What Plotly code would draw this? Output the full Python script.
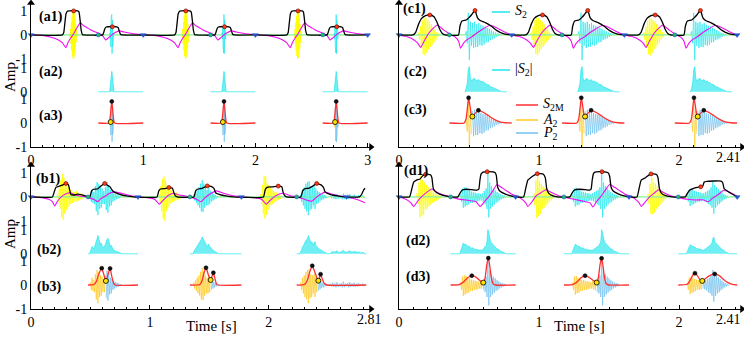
import plotly.graph_objects as go

FONT = "Liberation Serif"
W, H = 744, 338
ROW_OFF = [3.67, 1.3, 0.0]
Y_RANGE = [-1.0, 5.0]

COL_S1 = "#FFFF00"
COL_S2 = "#22E6EE"
COL_S2_FILL = "rgba(34,230,238,0.65)"
COL_MAG = "#EE10EE"
COL_ENV = "#000000"
COL_S2M = "#FF3030"
COL_A2 = "#FFC820"
COL_P2 = "#70C0EE"
COL_DOT = "#FF3A10"
COL_TRI = "#2255CC"
COL_GRN = "#22BB66"
COL_SPL = "#FFE000"

# ================= panel (a) : one repeated cycle =================
A_XMAX = 3.03
A_TEND = 3.0
A_TICKS = [0, 1, 2, 3]
A_TICKTEXT = ["0", "1", "2", "3"]
A_ENDLABEL = None
A_ONSETS = [0.0, 1.0, 2.0]
A_S1 = (0.347, 0.0032, [0.05, -0.12, 0.25, -0.38, 0.52, -0.65, 0.78, -0.88, 0.97, -1.0, 1.0,
                        -0.95, 0.9, -0.82, 0.7, -0.58, 0.45, -0.32, 0.2, -0.1, 0.04])
A_S2 = (0.703, 0.0028, [0.08, -0.18, 0.35, -0.5, 0.68, -0.75, 0.85, -0.78, 0.62, -0.48, 0.32, -0.18, 0.08])
A_ENV = [(0, 0), (0.28, 0), (0.292, 0.1), (0.302, 0.5), (0.312, 0.88), (0.325, 0.99), (0.34, 1.0),
         (0.415, 1.0), (0.428, 0.95), (0.438, 0.6), (0.447, 0.2), (0.458, 0.02), (0.47, 0),
         (0.638, 0), (0.648, 0.1), (0.658, 0.26), (0.67, 0.33), (0.685, 0.34), (0.765, 0.34),
         (0.777, 0.3), (0.787, 0.15), (0.797, 0.03), (0.81, 0), (1.0, 0)]
A_MAG = [(0, 0.01), (0.1, -0.02), (0.18, -0.1), (0.24, -0.2), (0.28, -0.33), (0.31, -0.53),
         (0.33, -0.32), (0.355, -0.12), (0.38, 0.05), (0.41, 0.3), (0.44, 0.5), (0.47, 0.38),
         (0.5, 0.3), (0.53, 0.22), (0.57, 0.13), (0.61, 0.06), (0.64, -0.04), (0.665, -0.21),
         (0.69, -0.12), (0.72, 0.0), (0.75, 0.1), (0.79, 0.17), (0.83, 0.12), (0.9, 0.06), (1.0, 0.01)]
A_RED = [(0.38, 1.0), (0.725, 0.34)]
A_WIN2 = (0.6, 1.0)
A_WIN3 = (0.6, 1.0)
A_SPLIT = 0.706
A_S2M = [(0.6, 0), (0.695, 0), (0.703, 0.12), (0.711, 0.5), (0.72, 0.9), (0.728, 0.55),
         (0.736, 0.15), (0.745, 0.0), (1.0, 0)]
A_R3_PEAK = [(0.72, 0.9)]
A_R3_SPL = [(0.71, 0.04)]
A_BLUE = [0, 1, 2, 3]
A_GREEN = [0.6, 1.6, 2.6]

# ================= panel (c) : one repeated cycle =================
C_XMAX = 2.45
C_TEND = 2.415
C_TICKS = [0, 1, 2]
C_TICKTEXT = ["0", "1", "2"]
C_ENDLABEL = ("2.41", 743, 157, "right")
C_ONSETS = [0.0, 0.805, 1.61]
C_S1 = (0.14, 0.0065, [0.1, -0.2, 0.35, -0.5, 0.6, -0.8, 0.72, -0.85, 0.7, -0.75, 0.62, -0.6, 0.55,
                       -0.5, 0.45, -0.4, 0.32, -0.3, 0.22, -0.2, 0.12, -0.1, 0.05, -0.03])
C_S2 = (0.48, 0.0075, [0.15, -0.35, 0.92, -1.05, 0.55, -0.45, 0.5, -0.55, 0.55, -0.5, 0.45, -0.5,
                       0.5, -0.42, 0.42, -0.45, 0.38, -0.4, 0.35, -0.32, 0.3, -0.3, 0.25, -0.22,
                       0.2, -0.18, 0.15, -0.14, 0.1, -0.08, 0.07, -0.05, 0.04, -0.02])
C_ENV = [(0, 0), (0.10, 0), (0.12, 0.12), (0.14, 0.45), (0.16, 0.68), (0.19, 0.8), (0.22, 0.83),
         (0.25, 0.76), (0.27, 0.55), (0.29, 0.25), (0.31, 0.06), (0.33, 0), (0.425, 0),
         (0.435, 0.35), (0.45, 0.58), (0.48, 0.62), (0.50, 0.72), (0.52, 0.85), (0.543, 1.02),
         (0.56, 0.72), (0.58, 0.6), (0.62, 0.5), (0.66, 0.36), (0.70, 0.18), (0.74, 0.06),
         (0.78, 0.01), (0.805, 0)]
C_MAG = [(0, 0), (0.06, -0.08), (0.11, -0.22), (0.135, -0.35), (0.155, -0.52), (0.18, -0.25),
         (0.21, 0.05), (0.24, 0.25), (0.27, 0.4), (0.29, 0.35), (0.32, 0.2), (0.36, 0.05),
         (0.40, -0.08), (0.425, -0.25), (0.44, -0.55), (0.46, -0.35), (0.49, -0.18), (0.52, -0.08),
         (0.56, 0.1), (0.6, 0.25), (0.65, 0.4), (0.69, 0.32), (0.73, 0.2), (0.77, 0.08), (0.805, 0.0)]
C_RED = [(0.22, 0.83), (0.543, 1.02)]
C_WIN2 = (0.475, 0.77)
C_WIN3 = (0.36, 0.805)
C_SPLIT = 0.524
C_S2M = [(0.36, 0), (0.465, 0.0), (0.478, 0.15), (0.488, 0.6), (0.497, 1.05), (0.506, 0.75),
         (0.515, 0.4), (0.524, 0.27), (0.54, 0.38), (0.567, 0.53), (0.6, 0.45), (0.64, 0.3),
         (0.68, 0.15), (0.72, 0.05), (0.76, 0.01), (0.805, 0)]
C_R3_PEAK = [(0.497, 1.05), (0.567, 0.53)]
C_R3_SPL = [(0.524, 0.27)]
C_BLUE = [0, 0.805, 1.61, 2.415]
C_GREEN = [0.36, 1.165, 1.97]

# ================= panel (b) =================
B_XMAX = 2.86
B_TEND = 2.81
B_TICKS = [0, 1, 2]
B_TICKTEXT = ["0", "1", "2"]
B_ENDLABEL = ("2.81", 369, 319, "center")
B_S1 = [
    (0.225, 0.0065, [0.1, -0.2, 0.35, -0.5, 0.7, -0.85, 0.95, -0.95, 0.8, -0.7, 0.6, -0.55, 0.5, -0.45,
                     0.4, -0.35, 0.3, -0.3, 0.28, -0.25, 0.22, -0.2, 0.2, -0.18, 0.25, -0.2, 0.18,
                     -0.15, 0.12, -0.1, 0.15, -0.12, 0.1, -0.08, 0.06, -0.04]),
    (1.08, 0.0065, [0.1, -0.25, 0.45, -0.6, 0.75, -0.9, 0.85, -1.0, 0.7, -0.6, 0.5, -0.45, 0.4, -0.35,
                    0.3, -0.28, 0.25, -0.22, 0.2, -0.18, 0.15, -0.15, 0.18, -0.14, 0.12, -0.1, 0.08,
                    -0.06, 0.05, -0.03]),
    (1.935, 0.0065, [0.12, -0.3, 0.5, -0.7, 0.88, -0.9, 0.85, -0.75, 0.6, -0.55, 0.5, -0.45, 0.4,
                     -0.35, 0.3, -0.3, 0.25, -0.22, 0.2, -0.2, 0.18, -0.15, 0.12, -0.12, 0.1, -0.08,
                     0.05, -0.03]),
]
B_S2 = [
    (0.5, 0.007, [0.1, -0.2, 0.3, -0.25, 0.2, -0.3, 0.45, -0.6, 0.62, -0.76, 0.55, -0.5, 0.4, -0.45,
                  0.35, -0.3, 0.25, -0.3, 0.4, -0.55, 0.6, -0.65, 0.5, -0.4, 0.3, -0.35, 0.25, -0.2,
                  0.15, -0.15, 0.12, -0.1, 0.1, -0.08, 0.06, -0.05, 0.04, -0.02]),
    (1.37, 0.007, [0.1, -0.15, 0.2, -0.25, 0.3, -0.35, 0.4, -0.45, 0.55, -0.6, 0.7, -0.63, 0.55, -0.45,
                   0.4, -0.35, 0.3, -0.35, 0.4, -0.3, 0.25, -0.2, 0.18, -0.15, 0.12, -0.1, 0.08,
                   -0.06, 0.04, -0.02]),
    (2.27, 0.007, [0.1, -0.2, 0.3, -0.35, 0.4, -0.5, 0.55, -0.6, 0.62, -0.76, 0.65, -0.55, 0.45, -0.5,
                   0.4, -0.35, 0.45, -0.5, 0.35, -0.3, 0.25, -0.25, 0.2, -0.18, 0.15, -0.12, 0.1,
                   -0.1, 0.08, -0.06, 0.05, -0.04]),
    (2.52, 0.009, [0.05, -0.06, 0.1, -0.08, 0.06, -0.1, 0.12, -0.08, 0.05, -0.06, 0.08, -0.1, 0.14,
                   -0.09, 0.06, -0.05, 0.09, -0.1, 0.12, -0.08, 0.06, -0.07, 0.1, -0.08, 0.05, -0.06,
                   0.08, -0.05, 0.04, -0.03, 0.06, -0.05]),
]
B_ENV = [(0, 0), (0.18, 0), (0.195, 0.2), (0.21, 0.4), (0.24, 0.45), (0.27, 0.5), (0.294, 0.56),
         (0.315, 0.5), (0.325, 0.3), (0.335, 0.1), (0.36, 0.08), (0.39, 0.12), (0.42, 0.1),
         (0.45, 0.05), (0.48, 0.0), (0.495, 0), (0.51, 0.25), (0.525, 0.32), (0.56, 0.33),
         (0.58, 0.42), (0.6, 0.5), (0.62, 0.56), (0.645, 0.48), (0.665, 0.42), (0.68, 0.3),
         (0.7, 0.2), (0.74, 0.12), (0.8, 0.04), (0.86, 0), (1.06, 0), (1.075, 0.25), (1.09, 0.33),
         (1.13, 0.35), (1.16, 0.39), (1.19, 0.36), (1.2, 0.2), (1.215, 0.05), (1.23, 0), (1.37, 0),
         (1.385, 0.25), (1.4, 0.32), (1.44, 0.36), (1.465, 0.42), (1.483, 0.46), (1.52, 0.43),
         (1.54, 0.35), (1.555, 0.16), (1.6, 0.08), (1.65, 0.03), (1.7, 0), (1.955, 0), (1.97, 0.3),
         (1.985, 0.4), (2.03, 0.42), (2.08, 0.45), (2.11, 0.42), (2.12, 0.2), (2.135, 0.05),
         (2.15, 0), (2.27, 0), (2.285, 0.25), (2.3, 0.33), (2.34, 0.37), (2.37, 0.45),
         (2.403, 0.56), (2.44, 0.5), (2.46, 0.4), (2.475, 0.2), (2.52, 0.1), (2.58, 0.04),
         (2.63, 0), (2.76, 0), (2.78, 0.1), (2.8, 0.3), (2.81, 0.36)]
B_MAG = [(0, 0), (0.1, -0.04), (0.15, -0.1), (0.18, -0.2), (0.2, -0.38), (0.22, -0.2), (0.25, -0.02),
         (0.29, 0.12), (0.33, 0.18), (0.37, 0.08), (0.42, 0.03), (0.47, 0.0), (0.5, -0.05),
         (0.535, -0.12), (0.56, -0.2), (0.585, -0.08), (0.62, 0.02), (0.66, 0.15), (0.7, 0.21),
         (0.76, 0.15), (0.83, 0.06), (0.9, 0.0), (0.98, -0.03), (1.04, -0.1), (1.08, -0.3),
         (1.11, -0.15), (1.15, 0.05), (1.2, 0.15), (1.25, 0.08), (1.31, 0.03), (1.37, -0.05),
         (1.4, -0.12), (1.43, -0.2), (1.46, -0.05), (1.5, 0.1), (1.56, 0.25), (1.62, 0.15),
         (1.7, 0.05), (1.78, 0.0), (1.88, -0.03), (1.94, -0.1), (1.98, -0.3), (2.01, -0.15),
         (2.06, 0.05), (2.12, 0.15), (2.18, 0.05), (2.24, 0.0), (2.29, -0.08), (2.33, -0.15),
         (2.36, -0.18), (2.4, -0.02), (2.44, 0.12), (2.47, 0.2), (2.53, 0.12), (2.6, 0.04),
         (2.66, 0.0), (2.72, -0.08), (2.78, -0.18), (2.81, -0.24)]
B_RED = [(0.294, 0.56), (0.62, 0.56), (1.16, 0.39), (1.483, 0.46), (2.08, 0.45), (2.403, 0.56)]
B_BLUE = [0, 0.90, 1.77, 2.655]
B_GREEN = [0.48, 1.337, 2.235]
B_WIN = [(0.48, 0.90), (1.337, 1.77), (2.235, 2.82)]
B_SPLIT = [0.63, 1.511, 2.417]
B_S2M = [
    [(0.48, 0), (0.53, 0.02), (0.55, 0.15), (0.57, 0.45), (0.595, 0.7), (0.612, 0.45), (0.63, 0.17),
     (0.645, 0.4), (0.665, 0.69), (0.68, 0.35), (0.695, 0.08), (0.71, 0), (0.9, 0)],
    [(1.337, 0), (1.42, 0.02), (1.44, 0.2), (1.455, 0.5), (1.472, 0.72), (1.49, 0.45), (1.511, 0.21),
     (1.522, 0.35), (1.534, 0.51), (1.548, 0.25), (1.56, 0.05), (1.575, 0), (1.77, 0)],
    [(2.235, 0), (2.3, 0.02), (2.325, 0.2), (2.345, 0.55), (2.366, 0.8), (2.39, 0.5), (2.417, 0.18),
     (2.427, 0.3), (2.436, 0.45), (2.45, 0.25), (2.47, 0.05), (2.49, 0), (2.82, 0)],
]
B_R3_PEAK = [(0.595, 0.7), (0.665, 0.69), (1.472, 0.72), (1.534, 0.51), (2.366, 0.8), (2.436, 0.45)]
B_R3_SPL = [(0.63, 0.17), (1.511, 0.21), (2.417, 0.18)]

# ================= panel (d) =================
D_XMAX = 2.45
D_TEND = 2.416
D_TICKS = [0, 1, 2]
D_TICKTEXT = ["0", "1", "2"]
D_ENDLABEL = ("2.41", 743, 319, "right")
D_S1 = [
    (0.13, 0.0065, [0.15, -0.3, 0.6, -0.85, 0.9, -0.8, 0.7, -0.75, 0.6, -0.55, 0.5, -0.5, 0.42, -0.4,
                    0.35, -0.32, 0.28, -0.25, 0.2, -0.2, 0.15, -0.15, 0.12, -0.1, 0.08, -0.06, 0.05,
                    -0.03]),
    (0.965, 0.0065, [0.15, -0.35, 0.7, -0.88, 0.85, -0.8, 0.65, -0.7, 0.55, -0.5, 0.45, -0.45, 0.38,
                     -0.35, 0.3, -0.28, 0.22, -0.2, 0.15, -0.14, 0.1, -0.08, 0.05, -0.03]),
    (1.78, 0.0065, [0.12, -0.3, 0.55, -0.7, 0.8, -0.72, 0.6, -0.65, 0.55, -0.5, 0.45, -0.42, 0.35,
                    -0.32, 0.28, -0.25, 0.2, -0.18, 0.12, -0.1, 0.06, -0.04]),
]
D_S2 = [
    (0.44, 0.0065, [0.1, -0.2, 0.35, -0.45, 0.4, -0.4, 0.38, -0.35, 0.3, -0.32, 0.28, -0.25, 0.22,
                    -0.25, 0.2, -0.2, 0.18, -0.2, 0.15, -0.18, 0.15, -0.15, 0.12, -0.15, 0.15, -0.2,
                    0.25, -0.3, 0.35, -0.5, 1.0, -0.85, 0.6, -0.5, 0.45, -0.4, 0.35, -0.32, 0.28,
                    -0.25, 0.2, -0.2, 0.15, -0.14, 0.1, -0.1, 0.08, -0.06, 0.05, -0.03]),
    (1.24, 0.0065, [0.1, -0.2, 0.35, -0.4, 0.38, -0.35, 0.3, -0.32, 0.28, -0.25, 0.22, -0.25, 0.2,
                    -0.2, 0.18, -0.2, 0.15, -0.18, 0.15, -0.15, 0.12, -0.15, 0.15, -0.18, 0.2, -0.22,
                    0.25, -0.3, 0.3, -0.35, 0.4, -0.5, 1.0, -0.85, 0.6, -0.5, 0.45, -0.4, 0.35,
                    -0.32, 0.28, -0.25, 0.2, -0.2, 0.15, -0.14, 0.1, -0.1, 0.08, -0.06, 0.05, -0.03]),
    (2.06, 0.0065, [0.1, -0.2, 0.3, -0.38, 0.35, -0.32, 0.3, -0.3, 0.25, -0.25, 0.22, -0.2, 0.2,
                    -0.2, 0.18, -0.18, 0.15, -0.15, 0.15, -0.18, 0.2, -0.22, 0.25, -0.3, 0.3, -0.35,
                    0.4, -0.45, 0.62, -0.7, 0.5, -0.45, 0.4, -0.35, 0.32, -0.3, 0.25, -0.22, 0.18,
                    -0.15, 0.12, -0.1, 0.08, -0.06, 0.05, -0.03]),
]
D_ENV = [(0, 0), (0.075, 0), (0.09, 0.3), (0.105, 0.62), (0.125, 0.7), (0.15, 0.75), (0.17, 0.88),
         (0.19, 0.94), (0.225, 0.92), (0.235, 0.8), (0.245, 0.35), (0.26, 0.22), (0.29, 0.12),
         (0.33, 0.04), (0.37, 0), (0.42, 0), (0.435, 0.15), (0.45, 0.28), (0.48, 0.32), (0.52, 0.3),
         (0.555, 0.28), (0.57, 0.32), (0.578, 0.7), (0.586, 0.95), (0.6, 1.03), (0.64, 1.05),
         (0.685, 1.02), (0.695, 0.9), (0.705, 0.4), (0.72, 0.25), (0.76, 0.12), (0.8, 0.04),
         (0.833, 0), (0.89, 0), (0.905, 0.35), (0.92, 0.7), (0.94, 0.8), (0.97, 0.92), (0.99, 0.97),
         (1.03, 0.95), (1.045, 0.8), (1.055, 0.35), (1.07, 0.15), (1.1, 0.04), (1.13, 0),
         (1.22, 0), (1.235, 0.15), (1.25, 0.28), (1.29, 0.32), (1.33, 0.3), (1.36, 0.28),
         (1.372, 0.32), (1.38, 0.7), (1.388, 0.95), (1.40, 1.03), (1.45, 1.05), (1.495, 1.0),
         (1.505, 0.85), (1.515, 0.4), (1.53, 0.25), (1.57, 0.12), (1.61, 0.04), (1.643, 0),
         (1.7, 0), (1.715, 0.35), (1.73, 0.7), (1.76, 0.8), (1.79, 0.93), (1.81, 0.96), (1.84, 0.93),
         (1.85, 0.8), (1.86, 0.35), (1.875, 0.15), (1.91, 0.04), (1.95, 0), (2.045, 0),
         (2.06, 0.15), (2.075, 0.28), (2.1, 0.35), (2.13, 0.4), (2.155, 0.42), (2.17, 0.45),
         (2.18, 0.62), (2.2, 0.65), (2.3, 0.66), (2.312, 0.6), (2.322, 0.35), (2.345, 0.25),
         (2.38, 0.12), (2.416, 0.0)]
D_MAG = [(0, 0), (0.05, -0.1), (0.085, -0.25), (0.105, -0.4), (0.13, -0.2), (0.16, 0.0), (0.2, 0.2),
         (0.235, 0.33), (0.27, 0.2), (0.32, 0.08), (0.37, 0.0), (0.42, -0.08), (0.5, -0.15),
         (0.55, -0.2), (0.58, -0.4), (0.61, -0.2), (0.64, 0.0), (0.67, 0.25), (0.70, 0.52),
         (0.73, 0.4), (0.77, 0.25), (0.81, 0.1), (0.85, 0.02), (0.88, -0.1), (0.905, -0.25),
         (0.92, -0.4), (0.95, -0.2), (0.98, 0.05), (1.02, 0.2), (1.05, 0.3), (1.09, 0.18),
         (1.14, 0.05), (1.19, -0.02), (1.25, -0.1), (1.32, -0.18), (1.365, -0.25), (1.385, -0.42),
         (1.41, -0.2), (1.44, 0.0), (1.47, 0.25), (1.505, 0.52), (1.54, 0.4), (1.58, 0.25),
         (1.62, 0.1), (1.66, 0.02), (1.69, -0.1), (1.715, -0.25), (1.73, -0.4), (1.76, -0.2),
         (1.79, 0.0), (1.82, 0.15), (1.855, 0.3), (1.89, 0.18), (1.94, 0.05), (2.0, -0.03),
         (2.06, -0.1), (2.12, -0.13), (2.17, -0.12), (2.21, -0.2), (2.24, -0.05), (2.28, 0.1),
         (2.32, 0.28), (2.36, 0.2), (2.39, 0.1), (2.416, 0.03)]
D_RED = [(0.19, 0.94), (0.63, 1.05), (0.988, 0.97), (1.45, 1.05), (1.80, 0.96), (2.155, 0.42)]
D_BLUE = [0, 0.833, 1.643, 2.416]
D_GREEN = [0.369, 1.178, 1.995]
D_WIN = [(0.369, 0.833), (1.178, 1.643), (1.995, 2.416)]
D_SPLIT = [0.602, 1.412, 2.166]
D_S2M = [
    [(0.369, 0), (0.43, 0.02), (0.46, 0.12), (0.49, 0.3), (0.52, 0.39), (0.55, 0.33), (0.575, 0.2),
     (0.602, 0.1), (0.615, 0.3), (0.627, 0.85), (0.638, 1.12), (0.648, 0.8), (0.66, 0.3),
     (0.672, 0.05), (0.69, 0), (0.833, 0)],
    [(1.178, 0), (1.24, 0.02), (1.27, 0.12), (1.3, 0.3), (1.329, 0.39), (1.355, 0.33), (1.385, 0.2),
     (1.412, 0.1), (1.424, 0.3), (1.436, 0.85), (1.447, 1.11), (1.457, 0.8), (1.468, 0.3),
     (1.48, 0.05), (1.5, 0), (1.643, 0)],
    [(1.995, 0), (2.06, 0.03), (2.08, 0.2), (2.1, 0.42), (2.114, 0.49), (2.13, 0.4), (2.15, 0.22),
     (2.166, 0.17), (2.185, 0.25), (2.215, 0.38), (2.255, 0.46), (2.29, 0.38), (2.32, 0.22),
     (2.35, 0.1), (2.38, 0.03), (2.416, 0)],
]
D_R3_PEAK = [(0.52, 0.39), (0.638, 1.12), (1.329, 0.39), (1.447, 1.11), (2.114, 0.49), (2.255, 0.46)]
D_R3_SPL = [(0.602, 0.1), (1.412, 0.1), (2.166, 0.17)]


# ---------------- helpers ----------------
def rep_knots(onsets, rel):
    return [(o + t, v) for o in onsets for (t, v) in rel]


def rep_groups(onsets, rel):
    return [[(o + t, v) for (t, v) in rel] for o in onsets]


def rep_bursts(onsets, b):
    return [(o + b[0], b[1], b[2]) for o in onsets]


def burst_pts(b):
    s, dt, vals = b
    t = [s + i * dt for i in range(len(vals))]
    return [s - dt] + t + [t[-1] + dt], [0.0] + list(vals) + [0.0]


def full_series(bursts, t0, t1, off):
    xs, ys = [t0], [0.0]
    for b in sorted(bursts, key=lambda q: q[0]):
        bx, by = burst_pts(b)
        xs += bx
        ys += by
    xs.append(t1)
    ys.append(0.0)
    return xs, [v + off for v in ys]


def window_abs(bursts, windows, off):
    xs, ys = [], []
    for w0, w1 in windows:
        xs.append(w0)
        ys.append(off)
        for b in sorted(bursts, key=lambda q: q[0]):
            if w0 <= b[0] <= w1:
                bx, by = burst_pts(b)
                xs += bx
                ys += [abs(v) + off for v in by]
        xs += [w1, None]
        ys += [off, None]
    return xs, ys


def window_split(bursts, windows, splits, off):
    ax, ay, px_, py_ = [], [], [], []
    for (w0, w1), s in zip(windows, splits):
        for b in sorted(bursts, key=lambda q: q[0]):
            if w0 <= b[0] <= w1:
                bx, by = burst_pts(b)
                for t, v in zip(bx, by):
                    if t < s:
                        ax.append(t)
                        ay.append(v + off)
                    else:
                        px_.append(t)
                        py_.append(v + off)
        ax.append(None); ay.append(None); px_.append(None); py_.append(None)
    return ax, ay, px_, py_


def knots_xy(knots, off):
    return [k[0] for k in knots], [k[1] + off for k in knots]


def groups_xy(groups, off):
    xs, ys = [], []
    for g in groups:
        for t, v in g:
            xs.append(t)
            ys.append(v + off)
        xs.append(None)
        ys.append(None)
    return xs, ys


# ---------------- panel specs ----------------
PANELS = [
    dict(xmax=A_XMAX, tend=A_TEND, ticks=A_TICKS, ticktext=A_TICKTEXT, endlabel=A_ENDLABEL,
         s1=rep_bursts(A_ONSETS, A_S1), s2=rep_bursts(A_ONSETS, A_S2),
         env=rep_knots(A_ONSETS, A_ENV), mag=rep_knots(A_ONSETS, A_MAG),
         red=rep_knots(A_ONSETS, A_RED), blue=A_BLUE, green=A_GREEN,
         win2=[(o + A_WIN2[0], o + A_WIN2[1]) for o in A_ONSETS],
         win3=[(o + A_WIN3[0], o + A_WIN3[1]) for o in A_ONSETS],
         split=[o + A_SPLIT for o in A_ONSETS], s2m=rep_groups(A_ONSETS, A_S2M),
         pk=rep_knots(A_ONSETS, A_R3_PEAK), sp=rep_knots(A_ONSETS, A_R3_SPL),
         dom_x=(31, 371), dom_y=(3, 147), ylabels=True),
    dict(xmax=B_XMAX, tend=B_TEND, ticks=B_TICKS, ticktext=B_TICKTEXT, endlabel=B_ENDLABEL,
         s1=B_S1, s2=B_S2, env=B_ENV, mag=B_MAG, red=B_RED, blue=B_BLUE, green=B_GREEN,
         win2=B_WIN, win3=B_WIN, split=B_SPLIT, s2m=B_S2M, pk=B_R3_PEAK, sp=B_R3_SPL,
         dom_x=(31, 371), dom_y=(165, 309), ylabels=True),
    dict(xmax=C_XMAX, tend=C_TEND, ticks=C_TICKS, ticktext=C_TICKTEXT, endlabel=C_ENDLABEL,
         s1=rep_bursts(C_ONSETS, C_S1), s2=rep_bursts(C_ONSETS, C_S2),
         env=rep_knots(C_ONSETS, C_ENV), mag=rep_knots(C_ONSETS, C_MAG),
         red=rep_knots(C_ONSETS, C_RED), blue=C_BLUE, green=C_GREEN,
         win2=[(o + C_WIN2[0], o + C_WIN2[1]) for o in C_ONSETS],
         win3=[(o + C_WIN3[0], o + C_WIN3[1]) for o in C_ONSETS],
         split=[o + C_SPLIT for o in C_ONSETS], s2m=rep_groups(C_ONSETS, C_S2M),
         pk=rep_knots(C_ONSETS, C_R3_PEAK), sp=rep_knots(C_ONSETS, C_R3_SPL),
         dom_x=(399, 742), dom_y=(3, 147), ylabels=False),
    dict(xmax=D_XMAX, tend=D_TEND, ticks=D_TICKS, ticktext=D_TICKTEXT, endlabel=D_ENDLABEL,
         s1=D_S1, s2=D_S2, env=D_ENV, mag=D_MAG, red=D_RED, blue=D_BLUE, green=D_GREEN,
         win2=D_WIN, win3=D_WIN, split=D_SPLIT, s2m=D_S2M, pk=D_R3_PEAK, sp=D_R3_SPL,
         dom_x=(399, 742), dom_y=(165, 309), ylabels=False),
]

fig = go.Figure()


def add_line(x, y, color, width, xa, ya, shape="linear", smoothing=None, fill=None, fillcolor=None):
    line = dict(color=color, width=width, shape=shape)
    if smoothing is not None:
        line["smoothing"] = smoothing
    kw = {}
    if fill:
        kw = dict(fill=fill, fillcolor=fillcolor)
    fig.add_trace(go.Scatter(x=x, y=y, mode="lines", line=line, xaxis=xa, yaxis=ya,
                             hoverinfo="skip", showlegend=False, connectgaps=False, **kw))


def add_markers(x, y, symbol, color, size, xa, ya, lc="black", lw=0.6):
    fig.add_trace(go.Scatter(x=x, y=y, mode="markers", xaxis=xa, yaxis=ya, cliponaxis=False,
                             marker=dict(symbol=symbol, color=color, size=size,
                                         line=dict(color=lc, width=lw)),
                             hoverinfo="skip", showlegend=False))


o1, o2, o3 = ROW_OFF
annotations = []
shapes = []
layout_axes = {}


def px(x):
    return x / W


def py(y):
    return 1 - y / H


for k, p in enumerate(PANELS, start=1):
    xa = "x" if k == 1 else f"x{k}"
    ya = "y" if k == 1 else f"y{k}"
    # row 1
    x, y = full_series(p["s1"], 0, p["tend"], o1)
    add_line(x, y, COL_S1, 0.8, xa, ya)
    x, y = full_series(p["s2"], 0, p["tend"], o1)
    add_line(x, y, COL_S2, 0.7, xa, ya)
    x, y = knots_xy(p["mag"], o1)
    add_line(x, y, COL_MAG, 1.1, xa, ya, "spline", 0.5)
    x, y = knots_xy(p["env"], o1)
    add_line(x, y, COL_ENV, 1.3, xa, ya, "spline", 0.4)
    add_markers(p["blue"], [o1] * len(p["blue"]), "triangle-down", COL_TRI, 5, xa, ya, COL_TRI, 0.5)
    add_markers(p["green"], [o1] * len(p["green"]), "circle", COL_GRN, 4, xa, ya, COL_TRI, 0.6)
    x, y = knots_xy(p["red"], o1)
    add_markers(x, y, "circle", COL_DOT, 4, xa, ya, "#600000", 0.6)
    # row 2
    x, y = window_abs(p["s2"], p["win2"], o2)
    add_line(x, y, COL_S2, 0.7, xa, ya, fill="toself", fillcolor=COL_S2_FILL)
    # row 3
    ax_, ay_, px2, py2 = window_split(p["s2"], p["win3"], p["split"], o3)
    add_line(ax_, ay_, COL_A2, 0.7, xa, ya)
    add_line(px2, py2, COL_P2, 0.7, xa, ya)
    x, y = groups_xy(p["s2m"], o3)
    add_line(x, y, COL_S2M, 1.3, xa, ya, "spline", 0.6)
    x, y = knots_xy(p["pk"], o3)
    add_markers(x, y, "circle", "#111111", 4, xa, ya, "black", 0.5)
    x, y = knots_xy(p["sp"], o3)
    add_markers(x, y, "circle", COL_SPL, 5, xa, ya, "black", 0.8)
    # axis arrowheads
    add_markers([p["xmax"]], [Y_RANGE[0]], "triangle-right", "black", 7, xa, ya, "black", 0)
    add_markers([0], [Y_RANGE[1]], "triangle-up", "black", 7, xa, ya, "black", 0)

    dx0, dx1 = p["dom_x"]
    dyt, dyb = p["dom_y"]
    xkey = "xaxis" if k == 1 else f"xaxis{k}"
    ykey = "yaxis" if k == 1 else f"yaxis{k}"
    layout_axes[xkey] = dict(
        domain=[px(dx0), px(dx1)], range=[0, p["xmax"]], anchor=ya, automargin=False,
        tickmode="array", tickvals=p["ticks"], ticktext=p["ticktext"],
        ticks="inside", ticklen=4, tickwidth=1, tickcolor="black",
        minor=dict(tickmode="linear", tick0=0, dtick=0.1, ticks="inside", ticklen=2,
                   tickwidth=1, tickcolor="black"),
        showgrid=False, zeroline=False, showline=True, linecolor="black", linewidth=1,
        tickfont=dict(family=FONT, size=14, color="black"), fixedrange=True)
    ydict = dict(domain=[py(dyb), py(dyt)], range=Y_RANGE, anchor=xa, showgrid=False,
                 automargin=False, zeroline=False, showline=True, linecolor="black",
                 linewidth=1, fixedrange=True,
                 tickfont=dict(family=FONT, size=14, color="black"))
    if p["ylabels"]:
        ydict.update(tickmode="array",
                     tickvals=[o1 + 1, o1, o1 - 1, o2 + 1, o2, o3 + 1, o3, o3 - 1],
                     ticktext=["1", "0", "-1", "1", "0", "1", "0", "-1"], ticks="")
    else:
        ydict.update(showticklabels=False, ticks="")
    layout_axes[ykey] = ydict

    if p["endlabel"]:
        txt, lx, ly, anc = p["endlabel"]
        annotations.append(dict(x=px(lx), y=py(ly), xref="paper", yref="paper", text=txt,
                                showarrow=False, xanchor=anc, yanchor="middle",
                                font=dict(family=FONT, size=14, color="black")))

# panel labels
LABELS = [("(a1)", 37, 17), ("(a2)", 37, 72), ("(a3)", 37, 116),
          ("(b1)", 34, 179), ("(b2)", 35, 250), ("(b3)", 35, 287),
          ("(c1)", 401, 9), ("(c2)", 402, 72), ("(c3)", 402, 110),
          ("(d1)", 402, 171), ("(d2)", 404, 241), ("(d3)", 404, 277)]
for txt, lx, ly in LABELS:
    annotations.append(dict(x=px(lx), y=py(ly), xref="paper", yref="paper", text=f"<b>{txt}</b>",
                            showarrow=False, xanchor="left", yanchor="middle",
                            font=dict(family=FONT, size=14, color="black")))

# axis titles
for tx, ty in [(211, 326), (579, 326)]:
    annotations.append(dict(x=px(tx), y=py(ty), xref="paper", yref="paper", text="Time [s]",
                            showarrow=False, xanchor="center", yanchor="middle",
                            font=dict(family=FONT, size=15, color="black")))
for tx, ty in [(10, 77), (10, 234)]:
    annotations.append(dict(x=px(tx), y=py(ty), xref="paper", yref="paper", text="Amp",
                            showarrow=False, xanchor="center", yanchor="middle", textangle=-90,
                            font=dict(family=FONT, size=15, color="black")))

# legends in panel (c)
LEG = [("<i>S</i><sub>2</sub>", COL_S2, 492, 510, 12),
       ("|<i>S</i><sub>2</sub>|", COL_S2, 492, 510, 70),
       ("<i>S</i><sub>2M</sub>", COL_S2M, 516, 538, 105),
       ("<i>A</i><sub>2</sub>", COL_A2, 516, 538, 120),
       ("<i>P</i><sub>2</sub>", COL_P2, 516, 538, 133)]
for txt, col, lx0, lx1, ly in LEG:
    shapes.append(dict(type="line", xref="paper", yref="paper", x0=px(lx0), x1=px(lx1),
                       y0=py(ly), y1=py(ly), line=dict(color=col, width=1.5)))
    annotations.append(dict(x=px(lx1 + 3), y=py(ly), xref="paper", yref="paper", text=txt,
                            showarrow=False, xanchor="left", yanchor="middle",
                            font=dict(family=FONT, size=14, color="black")))

fig.update_layout(
    width=W, height=H, margin=dict(l=0, r=0, t=0, b=0, autoexpand=False),
    paper_bgcolor="white", plot_bgcolor="white", showlegend=False,
    annotations=annotations, shapes=shapes, **layout_axes)

fig.write_html("out.html",
               config={"displayModeBar": False},
               post_script="document.body.style.margin='0';"
                           "document.body.style.padding='0';"
                           "document.body.style.overflow='hidden';")
